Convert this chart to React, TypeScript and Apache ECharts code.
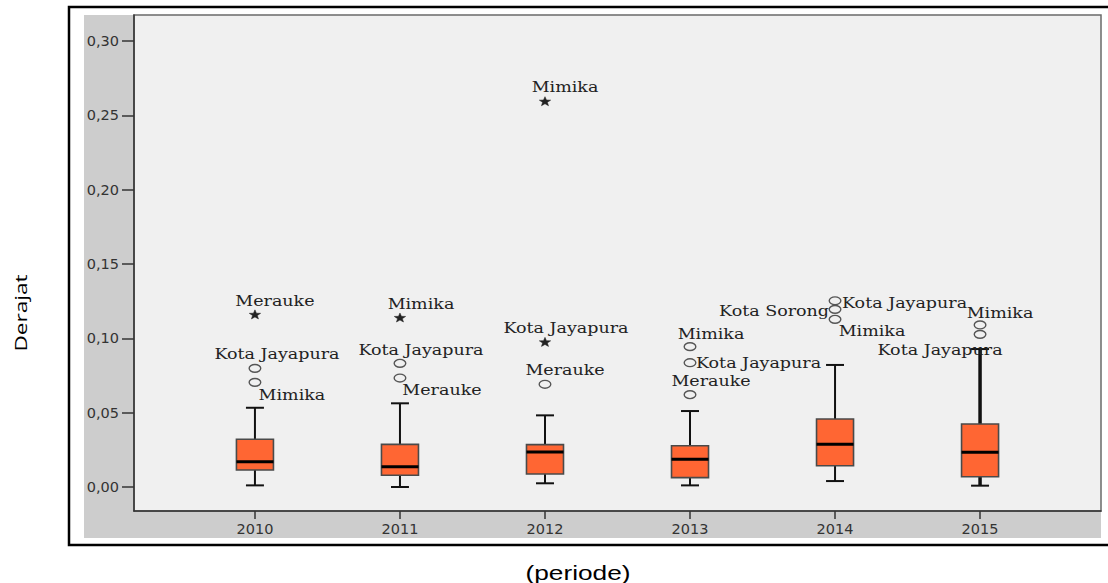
import React, { useEffect, useRef } from "react";
import * as echarts from "echarts";

// ---- Data ----
const years = ["2010", "2011", "2012", "2013", "2014", "2015"];
const whiskerLow = [0.0011, 0.0, 0.0025, 0.0011, 0.004, 0.0009];
const q1 = [0.0114, 0.0079, 0.0087, 0.0063, 0.0143, 0.0069];
const medianV = [0.017, 0.0137, 0.0235, 0.0186, 0.0287, 0.0233];
const q3 = [0.0321, 0.0287, 0.0285, 0.0278, 0.0457, 0.0424];
const whiskerHigh = [0.0533, 0.0563, 0.0482, 0.0511, 0.0821, 0.0928];

const outlierYear = [0, 0, 0, 1, 1, 1, 2, 2, 2, 3, 3, 3, 4, 4, 4, 5, 5];
const outlierValue = [
  0.1162, 0.0798, 0.0704, 0.1141, 0.0832, 0.0733, 0.2596, 0.0977, 0.0691,
  0.0944, 0.0836, 0.0621, 0.1253, 0.1195, 0.1128, 0.109, 0.1027,
];
const outlierName = [
  "Merauke", "Kota Jayapura", "Mimika",
  "Mimika", "Kota Jayapura", "Merauke",
  "Mimika", "Kota Jayapura", "Merauke",
  "Mimika", "Kota Jayapura", "Merauke",
  "Kota Jayapura", "Kota Sorong", "Mimika",
  "Mimika", "Kota Jayapura",
];
const outlierExtreme = [
  true, false, false, true, false, false, true, true, false,
  false, false, false, false, false, false, false, false,
];

const yTickValues = [0, 0.05, 0.1, 0.15, 0.2, 0.25, 0.3];
const xTickValues = [0, 1, 2, 3, 4, 5];

// ---- Styles (label placement relative to the point, in px) ----
const labelPlacement: [number, number, string][] = [
  [20, -13, "center"], [22, -14, "center"], [37, 13, "center"],
  [21, -13, "center"], [21, -13, "center"], [42, 12, "center"],
  [20, -14, "center"], [21, -14, "center"], [20, -14, "center"],
  [21, -13, "center"], [6, 0, "left"], [21, -14, "center"],
  [7, 2, "left"], [-6, 2, "right"], [37, 12, "center"],
  [20, -12, "center"], [-40, 16, "center"],
];
const whiskerWidth = [2, 2, 2, 2, 2, 3.5];

export default function App() {
  const ref = useRef<HTMLDivElement>(null);

  useEffect(() => {
    if (!ref.current) return;
    const chart = echarts.init(ref.current, undefined, { renderer: "svg" });

    const boxData = years.map((_, i) => [
      i, whiskerLow[i], q1[i], medianV[i], q3[i], whiskerHigh[i],
    ]);
    const outData = outlierYear.map((y, i) => [y, outlierValue[i]]);

    const option: any = {
      animation: false,
      backgroundColor: "#ffffff",
      grid: {
        left: 134,
        top: 15,
        right: 7,
        bottom: 72,
        show: true,
        backgroundColor: "#f0f0f0",
        borderColor: "#6a6a6a",
        borderWidth: 1.5,
      },
      xAxis: {
        type: "value",
        min: -0.834,
        max: 5.834,
        splitLine: { show: false },
        axisLine: { show: true, onZero: false, lineStyle: { color: "#333", width: 1.5 } },
        axisTick: {
          show: true,
          length: 8,
          customValues: xTickValues,
          lineStyle: { color: "#333", width: 1.5 },
        },
        axisLabel: {
          customValues: xTickValues,
          formatter: (v: number) => years[Math.round(v)],
          color: "#333",
          fontFamily: "DejaVu Sans",
          fontSize: 14.5,
          margin: 10,
        },
      },
      yAxis: {
        type: "value",
        min: -0.01614,
        max: 0.3175,
        splitLine: { show: false },
        axisLine: { show: true, onZero: false, lineStyle: { color: "#333", width: 1.5 } },
        axisTick: {
          show: true,
          length: 12,
          customValues: yTickValues,
          lineStyle: { color: "#333", width: 1.5 },
        },
        axisLabel: {
          customValues: yTickValues,
          formatter: (v: number) => v.toFixed(2).replace(".", ","),
          color: "#333",
          fontFamily: "DejaVu Sans",
          fontSize: 14.5,
          margin: 15,
        },
      },
      graphic: [
        {
          type: "rect",
          z: -10,
          silent: true,
          shape: { x: 84, y: 15, width: 1017, height: 523 },
          style: { fill: "#cdcdcd" },
        },
        {
          type: "rect",
          z: 100,
          silent: true,
          shape: { x: 69, y: 7, width: 1100, height: 538 },
          style: { fill: "none", stroke: "#000", lineWidth: 2.5 },
        },
        {
          type: "text",
          x: 21,
          y: 313,
          rotation: Math.PI / 2,
          scaleX: 1.33,
          style: {
            text: "Derajat",
            fill: "#000",
            fontSize: 17,
            fontFamily: "Open Sans",
            align: "center",
            verticalAlign: "middle",
          },
        },
        {
          type: "text",
          x: 578,
          y: 572,
          scaleX: 1.25,
          style: {
            text: "(periode)",
            fill: "#000",
            fontSize: 21,
            fontFamily: "Liberation Sans",
            align: "center",
            verticalAlign: "middle",
          },
        },
      ],
      series: [
        {
          type: "custom",
          name: "box",
          data: boxData,
          encode: { x: 0, y: [1, 2, 3, 4, 5] },
          renderItem: (params: any, api: any) => {
            const xi = api.value(0);
            const i = params.dataIndex;
            const lo = api.coord([xi, api.value(1)]);
            const pq1 = api.coord([xi, api.value(2)]);
            const med = api.coord([xi, api.value(3)]);
            const pq3 = api.coord([xi, api.value(4)]);
            const hi = api.coord([xi, api.value(5)]);
            const cx = lo[0];
            const halfW = api.size([0.1276, 0])[0];
            const capW = api.size([0.062, 0])[0];
            const ww = whiskerWidth[i];
            const wStyle = { stroke: "#111", lineWidth: ww };
            const cStyle = { stroke: "#111", lineWidth: 2 };
            return {
              type: "group",
              children: [
                { type: "line", shape: { x1: cx, y1: hi[1], x2: cx, y2: pq3[1] }, style: wStyle },
                { type: "line", shape: { x1: cx, y1: pq1[1], x2: cx, y2: lo[1] }, style: wStyle },
                { type: "line", shape: { x1: cx - capW, y1: hi[1], x2: cx + capW, y2: hi[1] }, style: cStyle },
                { type: "line", shape: { x1: cx - capW, y1: lo[1], x2: cx + capW, y2: lo[1] }, style: cStyle },
                {
                  type: "rect",
                  shape: { x: cx - halfW, y: pq3[1], width: halfW * 2, height: pq1[1] - pq3[1] },
                  style: { fill: "#ff6633", stroke: "#4a4a4a", lineWidth: 1.6 },
                },
                {
                  type: "line",
                  shape: { x1: cx - halfW, y1: med[1], x2: cx + halfW, y2: med[1] },
                  style: { stroke: "#000", lineWidth: 3 },
                },
              ],
            };
          },
          z: 2,
        },
        {
          type: "custom",
          name: "outliers",
          data: outData,
          encode: { x: 0, y: 1 },
          renderItem: (params: any, api: any) => {
            const i = params.dataIndex;
            const p = api.coord([api.value(0), api.value(1)]);
            const [dx, dy, align] = labelPlacement[i];
            const children: any[] = [];
            if (outlierExtreme[i]) {
              const pts: number[][] = [];
              for (let k = 0; k < 10; k++) {
                const ang = -Math.PI / 2 + (k * Math.PI) / 5;
                const r = k % 2 === 0 ? 1 : 0.42;
                pts.push([p[0] + Math.cos(ang) * 6 * r, p[1] + 0.6 + Math.sin(ang) * 5 * r]);
              }
              children.push({
                type: "polygon",
                shape: { points: pts },
                style: { fill: "#222", stroke: "#222", lineWidth: 0.5 },
              });
            } else {
              children.push({
                type: "ellipse",
                shape: { cx: p[0], cy: p[1], rx: 5.8, ry: 3.9 },
                style: { fill: "none", stroke: "#555", lineWidth: 1.4 },
              });
            }
            children.push({
              type: "text",
              x: p[0] + dx,
              y: p[1] + dy,
              scaleX: 1.25,
              style: {
                text: outlierName[i],
                fill: "#222",
                fontSize: 14,
                fontFamily: "DejaVu Serif",
                align: align,
                verticalAlign: "middle",
              },
            });
            return { type: "group", children };
          },
          z: 3,
        },
      ],
    };

    chart.setOption(option);
    return () => chart.dispose();
  }, []);

  return (
    <div
      ref={ref}
      style={{ position: "absolute", left: 0, top: 0, width: 1108, height: 583, background: "#fff" }}
    />
  );
}
